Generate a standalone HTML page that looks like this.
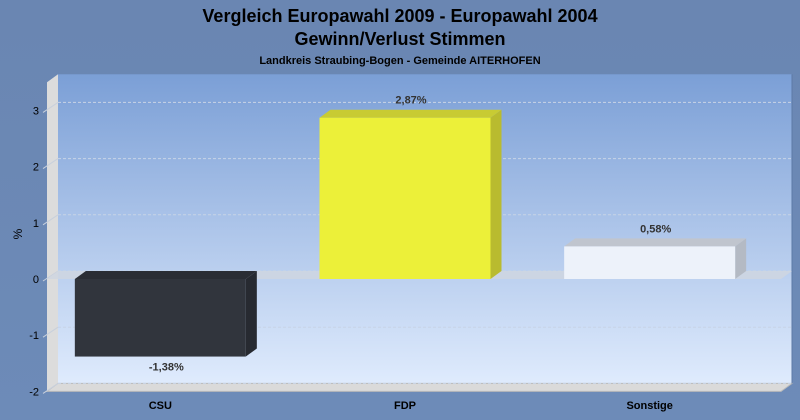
<!DOCTYPE html>
<html><head><meta charset="utf-8"><style>
body{margin:0;width:800px;height:420px;overflow:hidden;background:#6d8ab7;font-family:"Liberation Sans",sans-serif}
svg{display:block}
</style></head><body>
<svg width="800" height="420">
<defs>
<linearGradient id="wall" x1="0" y1="0" x2="0" y2="1"><stop offset="0" stop-color="#7b9fd6"/><stop offset="1" stop-color="#dfebfd"/></linearGradient>
<linearGradient id="bgg" x1="0" y1="0" x2="0" y2="1"><stop offset="0" stop-color="#6a86b2"/><stop offset="1" stop-color="#6d8bb8"/></linearGradient>
</defs>
<rect width="800" height="420" fill="url(#bgg)"/>
<text x="400" y="22" text-anchor="middle" font-size="18" font-weight="bold" fill="#000">Vergleich Europawahl 2009 - Europawahl 2004</text>
<text x="400" y="45" text-anchor="middle" font-size="18" font-weight="bold" fill="#000">Gewinn/Verlust Stimmen</text>
<text x="400" y="64" text-anchor="middle" font-size="11" font-weight="bold" fill="#000">Landkreis Straubing-Bogen - Gemeinde AITERHOFEN</text>
<text transform="translate(22,234) rotate(-90)" text-anchor="middle" font-size="12" fill="#000">%</text>
<g id="plot"></g>
</svg>
<script>
const categories = ["CSU","FDP","Sonstige"];
const values = [-1.38, 2.87, 0.58];
const valueLabels = ["-1,38%","2,87%","0,58%"];
const yTicks = [-2,-1,0,1,2,3];
const colors = ["#31353d","#ecf039","#edf2fa"];
const sideColors = ["#272a31","#b9bb2f","#b4bac4"];
const topColors = ["#2a2d34","#c8cb33","#c0c5ce"];

const NS="http://www.w3.org/2000/svg";
const g=document.getElementById('plot');
const X0=47, X1=781, DX=11, DY=8, Y0=279, UNIT=56.2;
const yScale=v=>Y0-v*UNIT;
function el(t,a,p){const e=document.createElementNS(NS,t);for(const k in a)e.setAttribute(k,a[k]);(p||g).appendChild(e);return e;}
const yTop=yScale(3.5), yBot=yScale(-2);
// back wall
const wall=el('rect',{x:X0+DX,y:yTop-DY,width:X1-X0,height:yBot-yTop,fill:'url(#wall)'});

// left wall
const lw=el('polygon',{points:`${X0},${yTop} ${X0+DX},${yTop-DY} ${X0+DX},${yBot-DY} ${X0},${yBot}`,fill:'#dcdcdc'});

// floor
const fl=el('polygon',{points:`${X0},${yBot} ${X0+DX},${yBot-DY} ${X1+DX},${yBot-DY} ${X1},${yBot}`,fill:'#dadada',stroke:'#bbb','stroke-width':1});

el('line',{x1:X1+DX,y1:yTop-DY,x2:X1+DX,y2:yBot-DY,stroke:'#5d7aa6','stroke-width':1});
yTicks.forEach(t=>{
  const y=yScale(t);
  const gl=el('line',{x1:X0+DX,y1:y-DY,x2:X1+DX,y2:y-DY,stroke:'#c8d4e6','stroke-width':1,'stroke-dasharray':'3,2'});
  
  el('line',{x1:X0-4,y1:y+2,x2:X0+DX,y2:y-DY,stroke:'#c8d0dc','stroke-width':1});
  const tl=el('text',{x:X0-8,y:y+4,'text-anchor':'end','font-size':11,fill:'#000'});
  tl.textContent=t;
  
});
// zero plane
const zp=el('polygon',{points:`${X0},${Y0} ${X0+DX},${Y0-DY} ${X1+DX},${Y0-DY} ${X1},${Y0}`,fill:'#cfd6e0',opacity:0.85});

const slot=(X1-X0)/categories.length, BW=171;
categories.forEach((c,i)=>{
  const x=X0+slot*i+(slot-BW)/2-9;
  const yv=yScale(values[i]);
  const top=Math.min(yv,Y0), bot=Math.max(yv,Y0);
  const grp=el('g',{});
  
  
  el('polygon',{points:`${x+BW},${top} ${x+BW+DX},${top-DY} ${x+BW+DX},${bot-DY} ${x+BW},${bot}`,fill:sideColors[i]},grp);
  el('polygon',{points:`${x},${top} ${x+DX},${top-DY} ${x+BW+DX},${top-DY} ${x+BW},${top}`,fill:topColors[i]},grp);
  el('rect',{x:x,y:top,width:BW,height:bot-top,fill:colors[i]},grp);
  const ly=values[i]>=0?top-DY-6:bot+14;
  const vl=el('text',{x:x+BW/2+6,y:ly,'text-anchor':'middle','font-size':11,'font-weight':'bold',fill:'#333'});
  vl.textContent=valueLabels[i];
  
  const cl=el('text',{x:x+BW/2,y:409,'text-anchor':'middle','font-size':11,'font-weight':'bold',fill:'#000'});
  cl.textContent=c;
  
});
</script>
</body></html>
